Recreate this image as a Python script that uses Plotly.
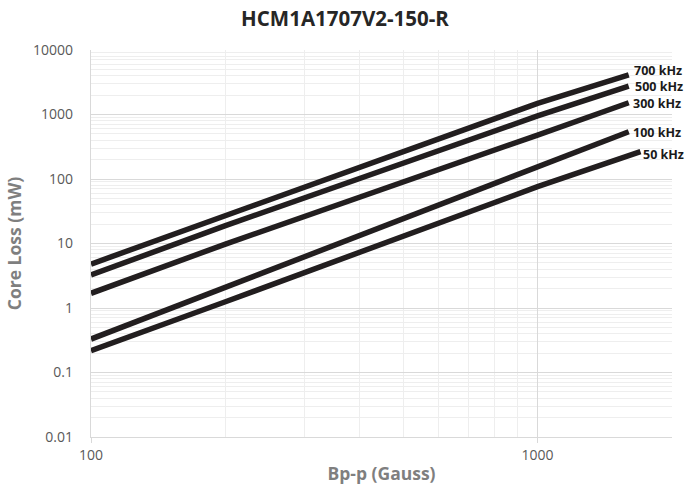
import numpy as np
import plotly.graph_objects as go

# Data
bpp_main = [100, 200, 1000, 1600]
bpp_50 = [100, 200, 1000, 1700]
loss_700 = [4.8, 27, 1490, 4100]
loss_500 = [3.25, 18.9, 950, 2760]
loss_300 = [1.69, 9.8, 480, 1520]
loss_100 = [0.33, 2.1, 159, 540]
loss_50 = [0.218, 1.25, 76, 265]

series = [
    ("700 kHz", bpp_main, loss_700),
    ("500 kHz", bpp_main, loss_500),
    ("300 kHz", bpp_main, loss_300),
    ("100 kHz", bpp_main, loss_100),
    ("50 kHz", bpp_50, loss_50),
]
label_shift = {"700 kHz": (3, 4), "500 kHz": (4, 0), "300 kHz": (2, -1), "100 kHz": (2, -1), "50 kHz": (1, -3)}

y_ticks = [0.01, 0.1, 1, 10, 100, 1000, 10000]
y_ticktext = ["0.01", "0.1", "1", "10", "100", "1000", "10000"]
x_ticks = [100, 1000]
x_ticktext = ["100", "1000"]

fig = go.Figure()
for name, xs, ys in series:
    fig.add_trace(go.Scatter(x=xs, y=ys, mode="lines", name=name,
                             line=dict(color="#221e1f", width=5.5),
                             showlegend=False, cliponaxis=False))
    dx, dy = label_shift[name]
    fig.add_annotation(x=np.log10(xs[-1]), y=np.log10(ys[-1]), text="<b>%s</b>" % name,
                       showarrow=False, xanchor="left", yanchor="middle",
                       xshift=dx, yshift=dy,
                       font=dict(family="Open Sans", size=12.5, color="#1a1a1a"))

y_minor = [m * 10.0 ** e for e in range(-2, 4) for m in range(2, 10)]
x_minor = [m * 10.0 ** e for e in range(2, 3) for m in range(2, 10)]

fig.update_layout(
    width=690, height=496,
    margin=dict(l=91, r=18, t=50, b=59),
    paper_bgcolor="white", plot_bgcolor="white",
    title=dict(text="<b>HCM1A1707V2-150-R</b>", x=0.5, xanchor="center", y=0.962, yanchor="middle",
               font=dict(family="Open Sans", size=20.5, color="#262626")),
    font=dict(family="Open Sans", color="#595959"),
    xaxis=dict(type="log", range=[2, np.log10(2000)],
               tickvals=x_ticks, ticktext=x_ticktext,
               tickfont=dict(size=14, color="#595959"),
               showgrid=True, gridcolor="#d9d9d9", gridwidth=1.3,
               showline=True, linecolor="#d9d9d9", linewidth=1.3,
               ticks="outside", ticklen=5, tickcolor="#d9d9d9",
               ticklabelstandoff=0, automargin=False,
               minor=dict(tickvals=x_minor, showgrid=True, gridcolor="#eeeeee", gridwidth=1, ticks=""),
               zeroline=False, mirror=False,
               title=dict(text="<b>Bp-p (Gauss)</b>", font=dict(size=17.5, color="#7f7f7f"), standoff=4)),
    yaxis=dict(type="log", range=[-2, 4],
               tickvals=y_ticks, ticktext=y_ticktext,
               tickfont=dict(size=14, color="#595959"),
               showgrid=True, gridcolor="#d9d9d9", gridwidth=1.3,
               showline=True, linecolor="#d9d9d9", linewidth=1.3,
               ticks="", ticklabelstandoff=14, automargin=False,
               minor=dict(tickvals=y_minor, showgrid=True, gridcolor="#eeeeee", gridwidth=1, ticks=""),
               zeroline=False,
               title=dict(text="<b>Core Loss (mW)</b>", font=dict(size=17.5, color="#7f7f7f"), standoff=6)),
)

fig.write_html("out.html", config={"displayModeBar": False},
               post_script="document.body.style.margin='0';document.body.style.padding='0';")
